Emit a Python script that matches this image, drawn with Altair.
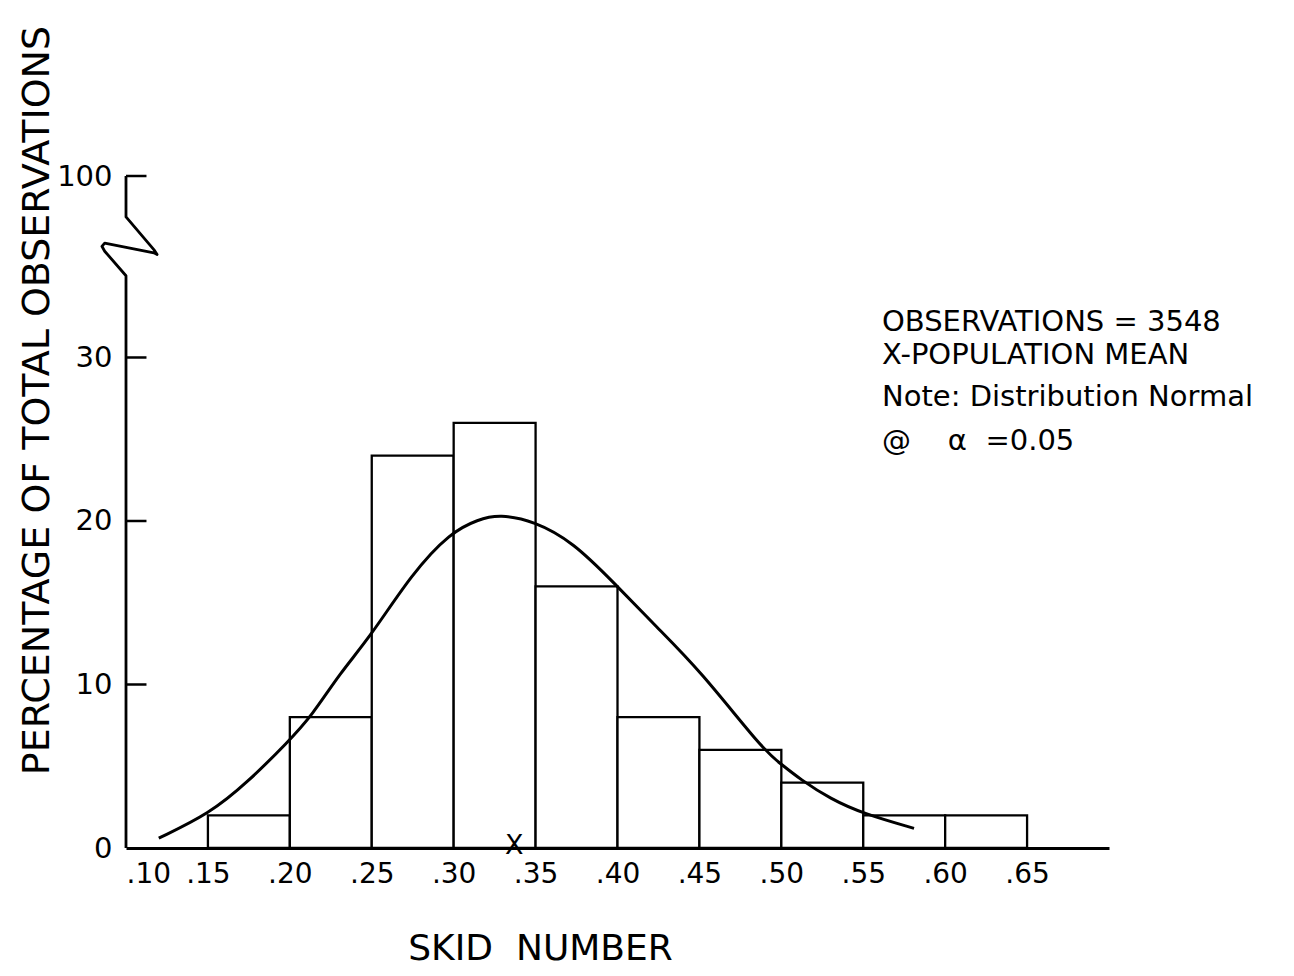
import altair as alt
import pandas as pd

# Histogram bins (skid number) and percentage of observations
bin_start = [0.15, 0.20, 0.25, 0.30, 0.35, 0.40, 0.45, 0.50, 0.55, 0.60]
bin_end = [0.20, 0.25, 0.30, 0.35, 0.40, 0.45, 0.50, 0.55, 0.60, 0.65]
pct = [2, 8, 24, 26, 16, 8, 6, 4, 2, 2]

# Fitted normal curve
curve_x = [0.120, 0.151, 0.174, 0.199, 0.2135, 0.2306, 0.249, 0.2746, 0.298, 0.315,
           0.328, 0.349, 0.373, 0.398, 0.424, 0.450, 0.489, 0.499, 0.5115, 0.530,
           0.550, 0.581]
curve_y = [0.6, 2.1, 4.0, 6.5, 8.1, 10.7, 12.9, 16.8, 19.3, 20.1,
           20.4, 20.0, 18.7, 16.2, 13.5, 10.9, 6.0, 5.2, 4.2, 3.0,
           2.1, 1.2]

# Population mean marker
mean_x = [0.337]

# Axis tick values/labels
x_ticks = [0.10, 0.15, 0.20, 0.25, 0.30, 0.35, 0.40, 0.45, 0.50, 0.55, 0.60, 0.65]
y_ticks = [0, 10, 20, 30, 41.1]
y_tick_labels = ["0", "10", "20", "30", "100"]

# Broken y-axis line (with the break zig-zag)
axis_x = [0.10, 0.10, 0.0870, 0.0853, 0.0870, 0.1170, 0.119, 0.1170, 0.10, 0.10]
axis_y = [0, 35.0, 36.5, 36.8, 37.0, 36.4, 36.3, 36.6, 38.6, 41.1]

notes = ["OBSERVATIONS = 3548", "X-POPULATION MEAN", "Note: Distribution Normal",
         "@\u00a0\u00a0\u00a0 α\u00a0\u00a0=0.05"]
note_y = [322, 355, 397, 441]

FONT = "DejaVu Sans"

xscale = alt.Scale(domain=[0.10, 0.70], nice=False, zero=False)
yscale = alt.Scale(domain=[0, 41.1], nice=False, zero=False)

bars_df = pd.DataFrame({"x0": bin_start, "x1": bin_end, "pct": pct})
curve_df = pd.DataFrame({"x": curve_x, "y": curve_y, "o": list(range(len(curve_x)))})
axis_df = pd.DataFrame({"x": axis_x, "y": axis_y, "o": list(range(len(axis_x)))})
ticks_df = pd.DataFrame({"y": y_ticks[1:], "x0": [0.10] * 4, "x1": [0.1125] * 4})
mean_df = pd.DataFrame({"x": mean_x, "y": [0]})

label_expr = "{" + ",".join(f"'{v}':'{l}'" for v, l in zip(y_ticks, y_tick_labels)) + "}"

bars = alt.Chart(bars_df).mark_rect(fill="white", stroke="black", strokeWidth=2.3).encode(
    x=alt.X("x0:Q", scale=xscale, axis=alt.Axis(
        values=x_ticks, labelExpr="replace(format(datum.value, '.2f'), '0.', '.')",
        ticks=False, grid=False, domainColor="black", domainWidth=2.8,
        labelFont=FONT, labelFontSize=28, labelColor="black", labelPadding=12,
        title="SKID\u00a0\u00a0NUMBER", titleFont=FONT, titleFontSize=36, titleFontWeight="normal",
        titleColor="black", titleX=414, titleY=100, titleBaseline="middle", titleAnchor="middle")),
    x2="x1:Q",
    y=alt.Y("pct:Q", scale=yscale, axis=alt.Axis(
        values=y_ticks, labelExpr=f"{label_expr}[datum.value]",
        ticks=False, grid=False, domain=False,
        labelFont=FONT, labelFontSize=29, labelColor="black", labelPadding=14,
        title="PERCENTAGE OF TOTAL OBSERVATIONS", titleFont=FONT, titleFontSize=38,
        titleFontWeight="normal", titleColor="black", titleAngle=-90,
        titleX=-89, titleY=224, titleBaseline="middle", titleAnchor="middle")),
    y2=alt.datum(0),
)

curve = alt.Chart(curve_df).mark_line(color="black", strokeWidth=3, interpolate="basis").encode(
    x=alt.X("x:Q", scale=xscale), y=alt.Y("y:Q", scale=yscale), order="o:Q")

yaxis = alt.Chart(axis_df).mark_line(color="black", strokeWidth=2.8, strokeJoin="round",
                                     interpolate="linear").encode(
    x=alt.X("x:Q", scale=xscale), y=alt.Y("y:Q", scale=yscale), order="o:Q")

yticks = alt.Chart(ticks_df).mark_rule(color="black", strokeWidth=2.5).encode(
    x=alt.X("x0:Q", scale=xscale), x2="x1:Q", y=alt.Y("y:Q", scale=yscale))

mean = alt.Chart(mean_df).mark_text(text="X", font=FONT, fontSize=27, baseline="middle",
                                     align="center", color="black", dy=-2).encode(
    x=alt.X("x:Q", scale=xscale), y=alt.Y("y:Q", scale=yscale))

note_layers = [
    alt.Chart(mean_df).mark_text(text=t, font=FONT, fontSize=29, align="left",
                                 baseline="middle", color="black").encode(
        x=alt.value(756), y=alt.value(yy - 176))
    for t, yy in zip(notes, note_y)
]

chart = alt.layer(bars, curve, yaxis, yticks, mean, *note_layers).properties(
    width=983, height=672,
    autosize=alt.AutoSizeParams(type="none"),
    padding={"left": 118, "top": 168, "right": 177, "bottom": 120},
    background="white",
).configure_view(stroke=None)

chart.save("out.html", embed_options={"renderer": "svg", "actions": False})
